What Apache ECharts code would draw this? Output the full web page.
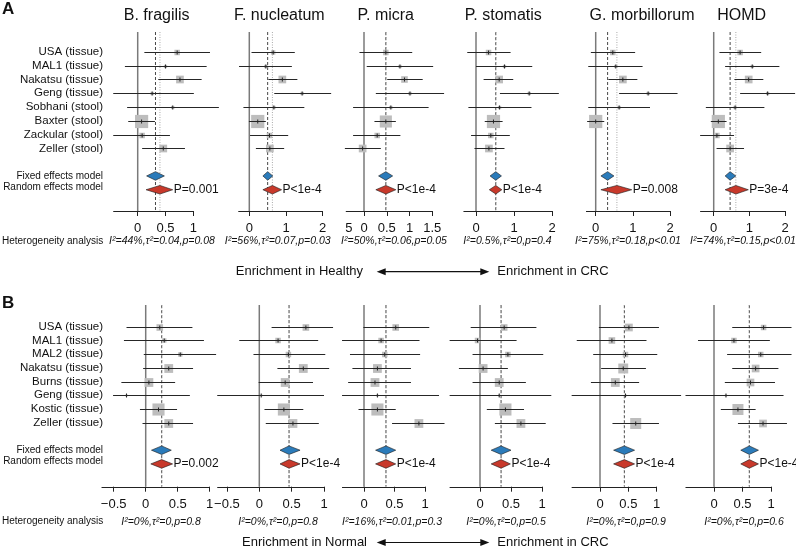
<!DOCTYPE html>
<html><head><meta charset="utf-8">
<script src="https://cdn.jsdelivr.net/npm/echarts@6/dist/echarts.min.js"></script>
<style>html,body{margin:0;padding:0;background:#fff}#c{width:796px;height:548px}</style>
</head><body><div id="c"></div>
<script>
// ---------------- DATA ----------------
const studiesA = ['USA (tissue)','MAL1 (tissue)','Nakatsu (tissue)','Geng (tissue)','Sobhani (stool)','Baxter (stool)','Zackular (stool)','Zeller (stool)'];
const studiesB = ['USA (tissue)','MAL1 (tissue)','MAL2 (tissue)','Nakatsu (tissue)','Burns (tissue)','Geng (tissue)','Kostic (tissue)','Zeller (tissue)'];
const pooledLabels = ['Fixed effects model','Random effects model'];
const taxa = ['B. fragilis','F. nucleatum','P. micra','P. stomatis','G. morbillorum','HOMD'];

// Panel A (Healthy vs CRC): estimate, lower CI, upper CI, weight (square size)
const aFragEst = [0.71, 0.50, 0.76, 0.26, 0.63, 0.07, 0.08, 0.46];
const aFragLo  = [0.12,-0.23, 0.37,-0.44,-0.19,-0.17,-0.44, 0.08];
const aFragHi  = [1.30, 1.24, 1.15, 1.01, 1.46, 0.31, 0.58, 0.85];
const aFragWt  = [5, 3, 7, 3, 3, 12, 5, 7];
const aFragFixed = [0.32, 0.16, 0.48], aFragRandom = [0.40, 0.15, 0.63];

const aFnucEst = [0.65, 0.45, 0.90, 1.44, 0.67, 0.23, 0.55, 0.56];
const aFnucLo  = [0.06,-0.28, 0.52, 0.68,-0.16,-0.01, 0.02, 0.18];
const aFnucHi  = [1.24, 1.16, 1.31, 2.23, 1.50, 0.45, 1.06, 0.95];
const aFnucWt  = [4, 3, 7, 3, 3, 12, 5, 7];
const aFnucFixed = [0.50, 0.37, 0.64], aFnucRandom = [0.63, 0.37, 0.88];

const aPmicEst = [0.48, 0.79, 0.89, 1.01, 0.59, 0.48, 0.29,-0.03];
const aPmicLo  = [-0.10, 0.06, 0.51, 0.26,-0.24, 0.23,-0.24,-0.42];
const aPmicHi  = [1.06, 1.52, 1.29, 1.76, 1.42, 0.70, 0.80, 0.37];
const aPmicWt  = [5, 3, 6, 3, 3, 11, 5, 7];
const aPmicFixed = [0.48, 0.32, 0.63], aPmicRandom = [0.48, 0.26, 0.70];

const aPstoEst = [0.33, 0.75, 0.61, 1.40, 0.62, 0.46, 0.39, 0.34];
const aPstoLo  = [-0.23, 0.00, 0.20, 0.63,-0.20, 0.23,-0.13,-0.04];
const aPstoHi  = [0.91, 1.48, 0.98, 2.18, 1.46, 0.70, 0.89, 0.75];
const aPstoWt  = [5, 3, 7, 3, 3, 12, 5, 7];
const aPstoFixed = [0.52, 0.37, 0.67], aPstoRandom = [0.52, 0.35, 0.68];

const aGmorEst = [0.46, 0.54, 0.73, 1.41, 0.63, 0.00, null, null];
const aGmorLo  = [-0.13,-0.20, 0.34, 0.63,-0.20,-0.23, null, null];
const aGmorHi  = [1.06, 1.26, 1.12, 2.20, 1.46, 0.23, null, null];
const aGmorWt  = [5, 3, 7, 3, 3, 12, null, null];
const aGmorFixed = [0.32, 0.14, 0.49], aGmorRandom = [0.57, 0.14, 0.97];

const aHomdEst = [0.74, 1.08, 0.98, 1.51, 0.60, 0.13, 0.09, 0.46];
const aHomdLo  = [0.16, 0.32, 0.58, 0.74,-0.22,-0.08,-0.38, 0.08];
const aHomdHi  = [1.33, 1.84, 1.39, 2.28, 1.42, 0.36, 0.57, 0.85];
const aHomdWt  = [5, 3, 7, 3, 3, 12, 5, 7];
const aHomdFixed = [0.46, 0.32, 0.62], aHomdRandom = [0.62, 0.32, 0.97];

const pA = ['P=0.001','P<1e-4','P<1e-4','P<1e-4','P=0.008','P=3e-4'];
const hetA = ['I\u00b2=44%,\u03c4\u00b2=0.04,p=0.08','I\u00b2=56%,\u03c4\u00b2=0.07,p=0.03','I\u00b2=50%,\u03c4\u00b2=0.06,p=0.05','I\u00b2=0.5%,\u03c4\u00b2=0,p=0.4','I\u00b2=75%,\u03c4\u00b2=0.18,p<0.01','I\u00b2=74%,\u03c4\u00b2=0.15,p<0.01'];
const tickLabelsA = [[0,0.5,1],[0,1,2],[-0.5,0,0.5,1,1.5],[0,1,2],[0,1,2],[0,1,2]];

// Panel B (Normal vs CRC)
const bFragEst = [0.22, 0.29, 0.54, 0.36, 0.05,-0.30, 0.20, 0.36];
const bFragLo  = [-0.30,-0.34,-0.03,-0.04,-0.38,-0.51,-0.09,-0.05];
const bFragHi  = [0.73, 0.91, 1.10, 0.74, 0.46, 0.69, 0.49, 0.74];
const bFragWt  = [6, 4, 4, 8, 8, 2, 11, 8];
const bFragFixed = [0.25, 0.09, 0.40], bFragRandom = [0.25, 0.08, 0.42];

const bFnucEst = [0.72, 0.29, 0.45, 0.68, 0.40, 0.03, 0.38, 0.52];
const bFnucLo  = [0.19,-0.31,-0.09, 0.28,-0.01,-0.65, 0.08, 0.10];
const bFnucHi  = [1.14, 0.91, 1.02, 1.08, 0.83, 1.00, 0.68, 0.92];
const bFnucWt  = [6, 5, 5, 8, 8, 2, 11, 8];
const bFnucFixed = [0.46, 0.32, 0.63], bFnucRandom = [0.46, 0.32, 0.63];

const bPmicEst = [0.52, 0.28, 0.34, 0.22, 0.18, 0.22, 0.22, 0.90];
const bPmicLo  = [-0.01,-0.36,-0.23,-0.19,-0.26,-0.36,-0.09, 0.46];
const bPmicHi  = [1.07, 0.91, 0.92, 0.77, 0.77, 1.23, 0.52, 1.32];
const bPmicWt  = [6, 5, 5, 8, 8, 2, 11, 8];
const bPmicFixed = [0.36, 0.19, 0.52], bPmicRandom = [0.36, 0.19, 0.52];

const bPstoEst = [0.39,-0.04, 0.45, 0.05, 0.31, 0.31, 0.41, 0.66];
const bPstoLo  = [-0.15,-0.49,-0.12,-0.34,-0.12,-0.49, 0.11, 0.24];
const bPstoHi  = [0.91, 0.59, 1.02, 0.45, 0.74, 1.15, 0.71, 1.06];
const bPstoWt  = [6, 5, 5, 8, 8, 2, 11, 8];
const bPstoFixed = [0.34, 0.18, 0.50], bPstoRandom = [0.34, 0.18, 0.49];

const bGmorEst = [0.51, 0.21, 0.45, 0.41, 0.27, 0.45, null, 0.63];
const bGmorLo  = [-0.02,-0.41,-0.12, 0.02,-0.16,-0.50, null, 0.22];
const bGmorHi  = [1.04, 0.82, 1.01, 0.81, 0.69, 1.43, null, 1.04];
const bGmorWt  = [7, 6, 5, 9, 8, 2, null, 10];
const bGmorFixed = [0.43, 0.24, 0.61], bGmorRandom = [0.43, 0.24, 0.61];

const bHomdEst = [0.87, 0.35, 0.82, 0.73, 0.64, 0.21, 0.42, 0.86];
const bHomdLo  = [0.32,-0.28, 0.23, 0.32, 0.19,-0.50, 0.12, 0.42];
const bHomdHi  = [1.36, 0.98, 1.36, 1.13, 1.07, 1.22, 0.73, 1.28];
const bHomdWt  = [5, 5, 5, 7, 7, 2, 10, 7];
const bHomdFixed = [0.62, 0.47, 0.78], bHomdRandom = [0.62, 0.47, 0.78];

const pB = ['P=0.002','P<1e-4','P<1e-4','P<1e-4','P<1e-4','P<1e-4'];
const hetB = ['I\u00b2=0%,\u03c4\u00b2=0,p=0.8','I\u00b2=0%,\u03c4\u00b2=0,p=0.8','I\u00b2=16%,\u03c4\u00b2=0.01,p=0.3','I\u00b2=0%,\u03c4\u00b2=0,p=0.5','I\u00b2=0%,\u03c4\u00b2=0,p=0.9','I\u00b2=0%,\u03c4\u00b2=0,p=0.6'];
const tickLabelsB = [[-0.5,0,0.5,1],[-0.5,0,0.5,1],[0,0.5,1],[0,0.5,1],[0,0.5,1],[0,0.5,1]];

// ---------------- LAYOUT ----------------
const FONT = '"Liberation Sans", Arial, Helvetica, sans-serif';
const SQ = 1.1; // square size factor (px per weight unit)
const YA = {top:32, bottom:211, min:-1.43, max:11.54, het:241.5};
const YB = {top:305, bottom:486.7, min:-1.58, max:11.66, het:521.7};
const layA = [
  {zero:137.7, scale:55.6, xmin:-0.45, xmax:1.50, axis:[-0.44,1], titleX:156.7, hetX:162},
  {zero:249.3, scale:36.7, xmin:-0.30, xmax:2.25, axis:[-0.30,2], titleX:279.3, hetX:277.7},
  {zero:364.0, scale:45.5, xmin:-0.50, xmax:1.80, axis:[-0.40,1.5], titleX:385.7, hetX:394, clipNeg:true},
  {zero:476.0, scale:38.0, xmin:-0.35, xmax:2.20, axis:[-0.33,2], titleX:503.3, hetX:507.5},
  {zero:595.7, scale:37.2, xmin:-0.30, xmax:2.25, axis:[-0.26,2], titleX:642, hetX:628},
  {zero:713.7, scale:35.7, xmin:-0.40, xmax:2.29, axis:[-0.38,2], titleX:741.7, hetX:743}
];
const layB = [
  {zero:145.7, scale:64.0, xmin:-0.70, xmax:1.12, axis:[-0.69,1], hetX:161},
  {zero:259.3, scale:64.7, xmin:-0.66, xmax:1.15, axis:[-0.65,1], hetX:278},
  {zero:364.0, scale:61.0, xmin:-0.37, xmax:1.33, axis:[-0.36,1], hetX:392},
  {zero:480.0, scale:62.0, xmin:-0.50, xmax:1.17, axis:[-0.49,1], hetX:506},
  {zero:600.0, scale:56.7, xmin:-0.50, xmax:1.45, axis:[-0.50,1], hetX:626},
  {zero:714.0, scale:57.0, xmin:-0.50, xmax:1.40, axis:[-0.50,1], hetX:744}
];

const panelsA = [
  {est:aFragEst, lo:aFragLo, hi:aFragHi, wt:aFragWt, fixed:aFragFixed, random:aFragRandom},
  {est:aFnucEst, lo:aFnucLo, hi:aFnucHi, wt:aFnucWt, fixed:aFnucFixed, random:aFnucRandom},
  {est:aPmicEst, lo:aPmicLo, hi:aPmicHi, wt:aPmicWt, fixed:aPmicFixed, random:aPmicRandom},
  {est:aPstoEst, lo:aPstoLo, hi:aPstoHi, wt:aPstoWt, fixed:aPstoFixed, random:aPstoRandom},
  {est:aGmorEst, lo:aGmorLo, hi:aGmorHi, wt:aGmorWt, fixed:aGmorFixed, random:aGmorRandom},
  {est:aHomdEst, lo:aHomdLo, hi:aHomdHi, wt:aHomdWt, fixed:aHomdFixed, random:aHomdRandom}
];
const panelsB = [
  {est:bFragEst, lo:bFragLo, hi:bFragHi, wt:bFragWt, fixed:bFragFixed, random:bFragRandom},
  {est:bFnucEst, lo:bFnucLo, hi:bFnucHi, wt:bFnucWt, fixed:bFnucFixed, random:bFnucRandom},
  {est:bPmicEst, lo:bPmicLo, hi:bPmicHi, wt:bPmicWt, fixed:bPmicFixed, random:bPmicRandom},
  {est:bPstoEst, lo:bPstoLo, hi:bPstoHi, wt:bPstoWt, fixed:bPstoFixed, random:bPstoRandom},
  {est:bGmorEst, lo:bGmorLo, hi:bGmorHi, wt:bGmorWt, fixed:bGmorFixed, random:bGmorRandom},
  {est:bHomdEst, lo:bHomdLo, hi:bHomdHi, wt:bHomdWt, fixed:bHomdFixed, random:bHomdRandom}
];

const grids = [], xAxes = [], yAxes = [], series = [], graphics = [];
const FIXED_ROW = 9, RANDOM_ROW = 10;

function fmtNum(v){ return v < 0 ? '\u2212' + String(-v) : String(v); }

function addPanel(idx, d, L, Y, labelVals, pText, hetText) {
  grids.push({left: L.zero + L.xmin * L.scale, width: (L.xmax - L.xmin) * L.scale, top: Y.top, height: Y.bottom - Y.top});
  const tickVals = labelVals.filter(v => !(L.clipNeg && v < 0));
  xAxes.push({
    gridIndex: idx, type: 'value', min: L.xmin, max: L.xmax, position: 'bottom',
    axisLine: {show: false, onZero: false}, splitLine: {show: false},
    axisTick: {show: true, customValues: tickVals, length: 5, lineStyle: {color: '#222', width: 1}},
    axisLabel: {show: true, customValues: labelVals, margin: 11, fontSize: 13, color: '#111', fontFamily: FONT,
      formatter: v => (L.clipNeg && v < 0) ? '{c|5}' : fmtNum(v),
      rich: {c: {fontSize: 13, fontFamily: FONT, color: '#111', padding: [0, 0, 0, 15]}}}
  });
  yAxes.push({gridIndex: idx, type: 'value', min: Y.min, max: Y.max, inverse: true, show: false, axisLine: {onZero: false}});

  // reference lines: zero, fixed (dashed), random (dotted)
  series.push({
    type: 'custom', xAxisIndex: idx, yAxisIndex: idx, clip: false, silent: true, z: 1,
    data: [[0, 0], [d.fixed[0], 1], [d.random[0], 2]],
    renderItem: (p, api) => {
      const x = api.value(0), k = api.value(1);
      const a = api.coord([x, Y.min]), b = api.coord([x, Y.max]);
      const st = k === 0 ? {stroke: '#7a7a7a', lineWidth: 1.5}
        : k === 1 ? {stroke: '#333', lineWidth: 0.9, lineDash: [3, 2]}
        : {stroke: '#a0a0a0', lineWidth: 0.9, lineDash: [1, 1.5]};
      return {type: 'line', shape: {x1: a[0], y1: a[1], x2: b[0], y2: b[1]}, style: st};
    }
  });
  // x axis baseline
  series.push({
    type: 'custom', xAxisIndex: idx, yAxisIndex: idx, clip: false, silent: true, z: 2,
    data: [[L.axis[0], L.axis[1]]],
    renderItem: (p, api) => {
      const a = api.coord([api.value(0), Y.max]), b = api.coord([api.value(1), Y.max]);
      return {type: 'line', shape: {x1: a[0], y1: Math.round(a[1]) + 0.5, x2: b[0], y2: Math.round(b[1]) + 0.5}, style: {stroke: '#222', lineWidth: 1}};
    }
  });
  // studies
  const sdata = [];
  d.est.forEach((e, i) => { if (e != null) sdata.push([e, i, d.lo[i], d.hi[i], d.wt[i]]); });
  series.push({
    type: 'custom', xAxisIndex: idx, yAxisIndex: idx, clip: false, silent: true, z: 3,
    encode: {x: 0, y: 1}, data: sdata,
    renderItem: (p, api) => {
      const row = api.value(1), s = api.value(4) * SQ;
      const c = api.coord([api.value(0), row]), l = api.coord([api.value(2), row]), h = api.coord([api.value(3), row]);
      const y = Math.round(c[1]) + 0.5;
      return {type: 'group', children: [
        {type: 'rect', shape: {x: c[0] - s / 2, y: y - s / 2, width: s, height: s}, style: {fill: '#bdbdbd'}},
        {type: 'line', shape: {x1: l[0], y1: y, x2: h[0], y2: y}, style: {stroke: '#262626', lineWidth: 1}},
        {type: 'line', shape: {x1: c[0], y1: y - 2, x2: c[0], y2: y + 2}, style: {stroke: '#262626', lineWidth: 1}}
      ]};
    }
  });
  // pooled diamonds
  series.push({
    type: 'custom', xAxisIndex: idx, yAxisIndex: idx, clip: false, silent: true, z: 4,
    encode: {x: 0, y: 1},
    data: [[d.fixed[0], FIXED_ROW, d.fixed[1], d.fixed[2], 0], [d.random[0], RANDOM_ROW, d.random[1], d.random[2], 1]],
    renderItem: (p, api) => {
      const row = api.value(1), k = api.value(4);
      const c = api.coord([api.value(0), row]), l = api.coord([api.value(2), row]), h = api.coord([api.value(3), row]);
      const hh = 4.3;
      const kids = [{type: 'polygon', shape: {points: [[l[0], c[1]], [c[0], c[1] - hh], [h[0], c[1]], [c[0], c[1] + hh]]},
        style: {fill: k === 0 ? '#2b7bba' : '#c8392b', stroke: '#1a1a1a', lineWidth: 0.6}}];
      if (k === 1) kids.push({type: 'text', style: {text: pText, x: h[0] + 1, y: c[1], align: 'left', verticalAlign: 'middle', fontSize: 12, fontFamily: FONT, fill: '#111'}});
      return {type: 'group', children: kids};
    }
  });
  // heterogeneity text
  graphics.push({type: 'text', x: L.hetX, y: Y.het, style: {text: hetText, align: 'center', textAlign: 'center', verticalAlign: 'middle', textVerticalAlign: 'middle', fontSize: 10.5, fontStyle: 'italic', fontFamily: FONT, fill: '#111'}});
}

function addLabels(idx, studies, Y) {
  const rows = studies.map((s, i) => [0, i, 0]);
  rows.push([0, FIXED_ROW, 1], [0, RANDOM_ROW, 2]);
  series.push({
    type: 'custom', xAxisIndex: idx, yAxisIndex: idx, clip: false, silent: true, z: 5,
    encode: {x: 0, y: 1}, data: rows,
    renderItem: (p, api) => {
      const row = api.value(1), k = api.value(2);
      const y = api.coord([0, row])[1];
      const txt = k === 0 ? studies[row] : pooledLabels[k - 1];
      return {type: 'text', style: {text: txt, x: 103, y: k === 2 ? y - 2.5 : y, align: 'right', verticalAlign: 'middle',
        fontSize: k === 0 ? 11.5 : 10, fontFamily: FONT, fill: '#111'}};
    }
  });
}

panelsA.forEach((d, i) => addPanel(i, d, layA[i], YA, tickLabelsA[i], pA[i], hetA[i]));
panelsB.forEach((d, i) => addPanel(6 + i, d, layB[i], YB, tickLabelsB[i], pB[i], hetB[i]));
addLabels(0, studiesA, YA);
addLabels(6, studiesB, YB);

// titles
taxa.forEach((t, i) => graphics.push({type: 'text', x: layA[i].titleX, y: 16, style: {text: t, align: 'center', textAlign: 'center', verticalAlign: 'middle', textVerticalAlign: 'middle', fontSize: 16, fontFamily: FONT, fill: '#111'}}));
// panel letters
graphics.push({type: 'text', x: 2, y: 9, style: {text: 'A', verticalAlign: 'middle', textVerticalAlign: 'middle', fontSize: 17, fontWeight: 'bold', fontFamily: FONT, fill: '#111'}});
graphics.push({type: 'text', x: 2, y: 303, style: {text: 'B', verticalAlign: 'middle', textVerticalAlign: 'middle', fontSize: 17, fontWeight: 'bold', fontFamily: FONT, fill: '#111'}});
// heterogeneity header
[YA.het, YB.het].forEach(y => graphics.push({type: 'text', x: 2, y: y, style: {text: 'Heterogeneity analysis', verticalAlign: 'middle', textVerticalAlign: 'middle', fontSize: 10, fontFamily: FONT, fill: '#111'}}));

// enrichment arrows
function arrow(y, leftText, leftX) {
  const x1 = 376.7, x2 = 489.3, hl = 9, hw = 3.5;
  graphics.push({type: 'line', shape: {x1: x1 + hl - 1, y1: y, x2: x2 - hl + 1, y2: y}, style: {stroke: '#111', lineWidth: 1.2}});
  graphics.push({type: 'polygon', shape: {points: [[x1, y], [x1 + hl, y - hw], [x1 + hl, y + hw]]}, style: {fill: '#111'}});
  graphics.push({type: 'polygon', shape: {points: [[x2, y], [x2 - hl, y - hw], [x2 - hl, y + hw]]}, style: {fill: '#111'}});
  graphics.push({type: 'text', x: leftX, y: y, style: {text: leftText, align: 'right', textAlign: 'right', verticalAlign: 'middle', textVerticalAlign: 'middle', fontSize: 13, fontFamily: FONT, fill: '#111'}});
  graphics.push({type: 'text', x: 497.3, y: y, style: {text: 'Enrichment in CRC', align: 'left', textAlign: 'left', verticalAlign: 'middle', textVerticalAlign: 'middle', fontSize: 13, fontFamily: FONT, fill: '#111'}});
}
arrow(271.7, 'Enrichment in Healthy', 363);
arrow(542.5, 'Enrichment in Normal', 367);

const chart = echarts.init(document.getElementById('c'), null, {renderer: 'canvas'});
chart.setOption({
  animation: false, backgroundColor: '#fff',
  grid: grids, xAxis: xAxes, yAxis: yAxes, series: series, graphic: graphics
});
</script></body></html>
